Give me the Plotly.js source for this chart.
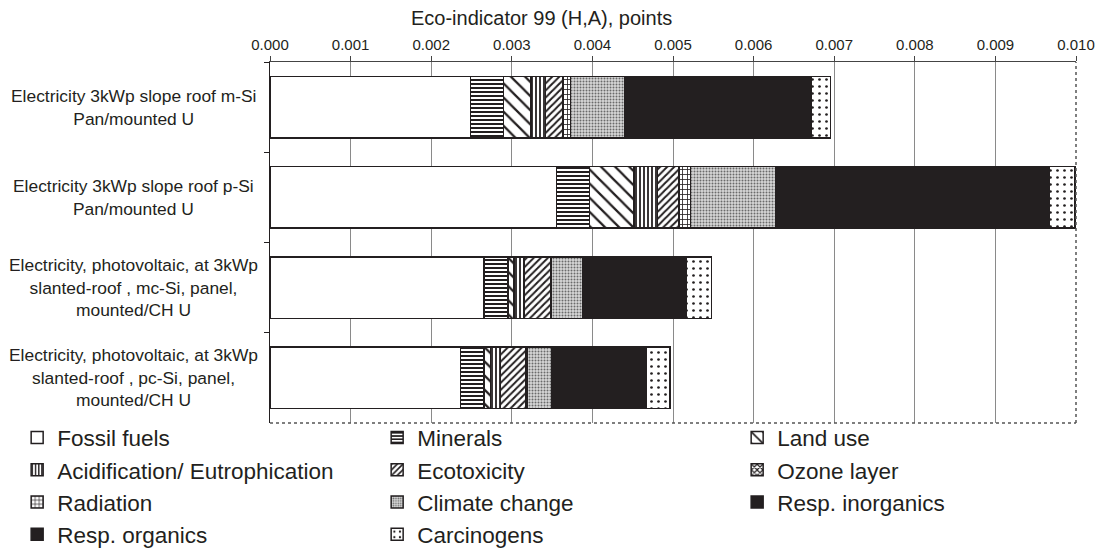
<!DOCTYPE html>
<html>
<head>
<meta charset="utf-8">
<script src="https://cdn.plot.ly/plotly-3.0.1.min.js"></script>
<style>
  html, body { margin: 0; padding: 0; background: #fff; }
  #chart { width: 1098px; height: 548px; }
</style>
</head>
<body>
<div id="chart"></div>
<script>
// Product systems (top to bottom)
const categories = ['m-Si', 'p-Si', 'mc-Si', 'pc-Si'];
const categoryLabels = [
  'Electricity 3kWp slope roof m-Si<br>Pan/mounted U',
  'Electricity 3kWp slope roof p-Si<br>Pan/mounted U',
  'Electricity, photovoltaic, at 3kWp<br>slanted-roof , mc-Si, panel,<br>mounted/CH U',
  'Electricity, photovoltaic, at 3kWp<br>slanted-roof , pc-Si, panel,<br>mounted/CH U'
];
const axisTitle = 'Eco-indicator 99 (H,A), points';

// Eco-indicator 99 (H,A) points per impact category
const fossilFuels      = [0.002490, 0.003555, 0.002655, 0.002365];
const minerals         = [0.000406, 0.000406, 0.000295, 0.000290];
const landUse          = [0.000344, 0.000557, 0.000075, 0.000083];
const acidification    = [0.000177, 0.000287, 0.000125, 0.000124];
const ecotoxicity      = [0.000211, 0.000265, 0.000330, 0.000310];
const ozoneLayer       = [0.000010, 0.000010, 0.000005, 0.000005];
const radiation        = [0.000090, 0.000140, 0.000010, 0.000010];
const climateChange    = [0.000670, 0.001050, 0.000380, 0.000310];
const respInorganics   = [0.002310, 0.003390, 0.001290, 0.001170];
const respOrganics     = [0.000005, 0.000008, 0.000004, 0.000004];
const carcinogens      = [0.000240, 0.000320, 0.000310, 0.000290];

const seriesNames = ['Fossil fuels', 'Minerals', 'Land use',
  'Acidification/ Eutrophication', 'Ecotoxicity', 'Ozone layer',
  'Radiation', 'Climate change', 'Resp. inorganics',
  'Resp. organics', 'Carcinogens'];
const seriesValues = [fossilFuels, minerals, landUse, acidification, ecotoxicity,
  ozoneLayer, radiation, climateChange, respInorganics, respOrganics, carcinogens];

const INK = '#231f20';
// fill style for each impact category
const fills = [
  { color: '#ffffff' },
  { color: '#ffffff', pattern: { shape: '-', fgcolor: INK, bgcolor: '#ffffff', size: 4, solidity: 0.5 } },
  { color: '#ffffff', pattern: { shape: '\\', fgcolor: INK, bgcolor: '#ffffff', size: 10, solidity: 0.22 } },
  { color: '#ffffff', pattern: { shape: '|', fgcolor: INK, bgcolor: '#ffffff', size: 4, solidity: 0.45 } },
  { color: '#ffffff', pattern: { shape: '/', fgcolor: INK, bgcolor: '#ffffff', size: 5, solidity: 0.4 } },
  { color: '#ffffff', pattern: { shape: 'x', fgcolor: INK, bgcolor: '#ffffff', size: 5, solidity: 0.5 } },
  { color: '#ffffff', pattern: { shape: '+', fgcolor: INK, bgcolor: '#ffffff', size: 5, solidity: 0.3 } },
  { color: '#c8c8c8', pattern: { shape: '.', fgcolor: '#6a6a6a', bgcolor: '#d8d8d8', size: 3, solidity: 0.35 } },
  { color: INK },
  { color: INK },
  { color: '#ffffff', pattern: { shape: '.', fgcolor: INK, bgcolor: '#ffffff', size: 7, solidity: 0.12 } }
];

const traces = seriesNames.map((name, i) => ({
  type: 'bar',
  orientation: 'h',
  name: name,
  y: categories,
  x: seriesValues[i],
  marker: Object.assign({ line: { color: INK, width: 1.5 } }, fills[i]),
  hoverinfo: 'name+x'
}));

const FONT = 'Liberation Sans, Arial, sans-serif';

const annotations = categories.map((c, i) => ({
  xref: 'paper', yref: 'y',
  x: -0.169, y: c,
  xanchor: 'center', yanchor: 'middle',
  text: categoryLabels[i],
  align: 'center',
  showarrow: false,
  font: { family: FONT, size: 17.4, color: INK }
}));

const layout = {
  width: 1098, height: 548,
  margin: { l: 270, r: 22, t: 62, b: 125, autoexpand: false },
  paper_bgcolor: '#ffffff',
  plot_bgcolor: '#ffffff',
  barmode: 'stack',
  bargap: 0.32,
  font: { family: FONT, color: INK },
  title: {
    text: axisTitle,
    xref: 'paper', x: 0.337, xanchor: 'center',
    yref: 'container', y: 0.968, yanchor: 'middle',
    font: { family: FONT, size: 20, color: INK }
  },
  xaxis: {
    side: 'top',
    range: [0, 0.010],
    dtick: 0.001,
    tick0: 0,
    tickformat: '.3f',
    showgrid: true,
    gridcolor: '#8a8a8a',
    gridwidth: 1,
    zeroline: false,
    showline: true,
    linecolor: '#444444',
    linewidth: 1.5,
    ticks: 'outside',
    ticklen: 5,
    tickcolor: '#444444',
    tickfont: { family: FONT, size: 15, color: INK }
  },
  yaxis: {
    type: 'category',
    autorange: 'reversed',
    showticklabels: false,
    showgrid: false,
    zeroline: false,
    showline: true,
    linecolor: INK,
    linewidth: 1.5,
    ticks: 'outside',
    tickson: 'boundaries',
    ticklen: 5,
    tickcolor: INK
  },
  shapes: [
    { type: 'line', xref: 'paper', yref: 'paper', x0: 0, x1: 1, y0: 0, y1: 0,
      line: { color: '#555555', width: 1.5, dash: 'dot' } },
    { type: 'line', xref: 'paper', yref: 'paper', x0: 1, x1: 1, y0: 0, y1: 1,
      line: { color: '#555555', width: 1.5, dash: 'dot' } }
  ],
  annotations: annotations,
  showlegend: true,
  legend: {
    orientation: 'h',
    x: -0.3137, xanchor: 'left',
    y: -0.1745, yanchor: 'middle',
    entrywidth: 315,
    entrywidthmode: 'pixels',
    itemwidth: 30,
    traceorder: 'normal',
    font: { family: FONT, size: 22.5, color: INK },
    bgcolor: 'rgba(0,0,0,0)'
  }
};

Plotly.newPlot('chart', traces, layout, { displayModeBar: false, staticPlot: true });
</script>
</body>
</html>
